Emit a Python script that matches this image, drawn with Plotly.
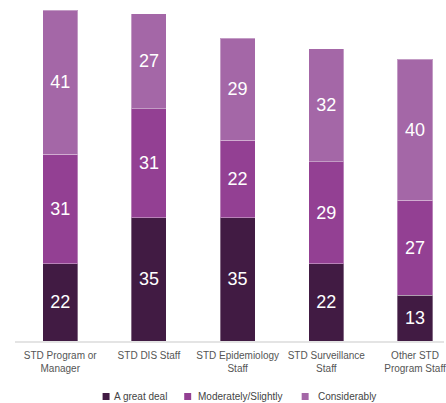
import plotly.graph_objects as go

categories = ["STD Program or<br>Manager", "STD DIS Staff", "STD Epidemiology<br>Staff",
              "STD Surveillance<br>Staff", "Other STD<br>Program Staff"]
series_names = ["A great deal", "Moderately/Slightly", "Considerably"]
great_deal = [22, 35, 35, 22, 13]
moderately = [31, 31, 22, 29, 27]
considerably = [41, 27, 29, 32, 40]
colors = ["#411b43", "#934093", "#a467a7"]

W, H = 446, 403
L, R, T, B = 15, 0, 0, 62
plot_w = W - L - R
plot_h = H - T - B

fig = go.Figure()
for name, vals, col in zip(series_names, [great_deal, moderately, considerably], colors):
    fig.add_trace(go.Bar(
        x=categories, y=vals, name=name,
        marker=dict(color=col, line=dict(color="rgba(255,255,255,0.35)", width=1)),
        width=0.395,
        text=[str(v) for v in vals],
        textposition="inside", insidetextanchor="middle", textangle=0,
        constraintext="none",
        textfont=dict(color="white", size=18, family="Liberation Sans, Arial, sans-serif"),
        showlegend=False,
    ))

# px per unit ~3.52, baseline at y=341
fig.update_layout(
    barmode="stack",
    width=W, height=H,
    margin=dict(l=L, r=R, t=T, b=B, pad=0),
    paper_bgcolor="white", plot_bgcolor="white",
    font=dict(family="Liberation Sans, Arial, sans-serif"),
    xaxis=dict(range=[-0.51, 4.327], showgrid=False, showline=True,
               linecolor="#e4e4e4", linewidth=2, ticks="",
               tickfont=dict(size=10, color="#555555"), ticklabelstandoff=4),
    yaxis=dict(range=[0, 96.9], visible=False, fixedrange=True),
    uniformtext=dict(mode=False),
)

# legend drawn manually to match compact reference layout
def px_x(px):
    return (px - L) / plot_w

def px_y(py):
    return (T + plot_h - py) / plot_h

sq_x = [103, 185, 303]
tx_x = [112, 197, 317]
ly = 396.5
for name, col, sx, tx in zip(series_names, colors, sq_x, tx_x):
    fig.add_shape(type="rect", xref="paper", yref="paper",
                  x0=px_x(sx), x1=px_x(sx + 7), y0=px_y(ly + 3.5), y1=px_y(ly - 3.5),
                  fillcolor=col, line=dict(width=0))
    fig.add_annotation(text=name, xref="paper", yref="paper",
                       x=px_x(tx), y=px_y(ly), xanchor="left", yanchor="middle",
                       showarrow=False, font=dict(size=10, color="#444444"))

fig.write_html("out.html")
